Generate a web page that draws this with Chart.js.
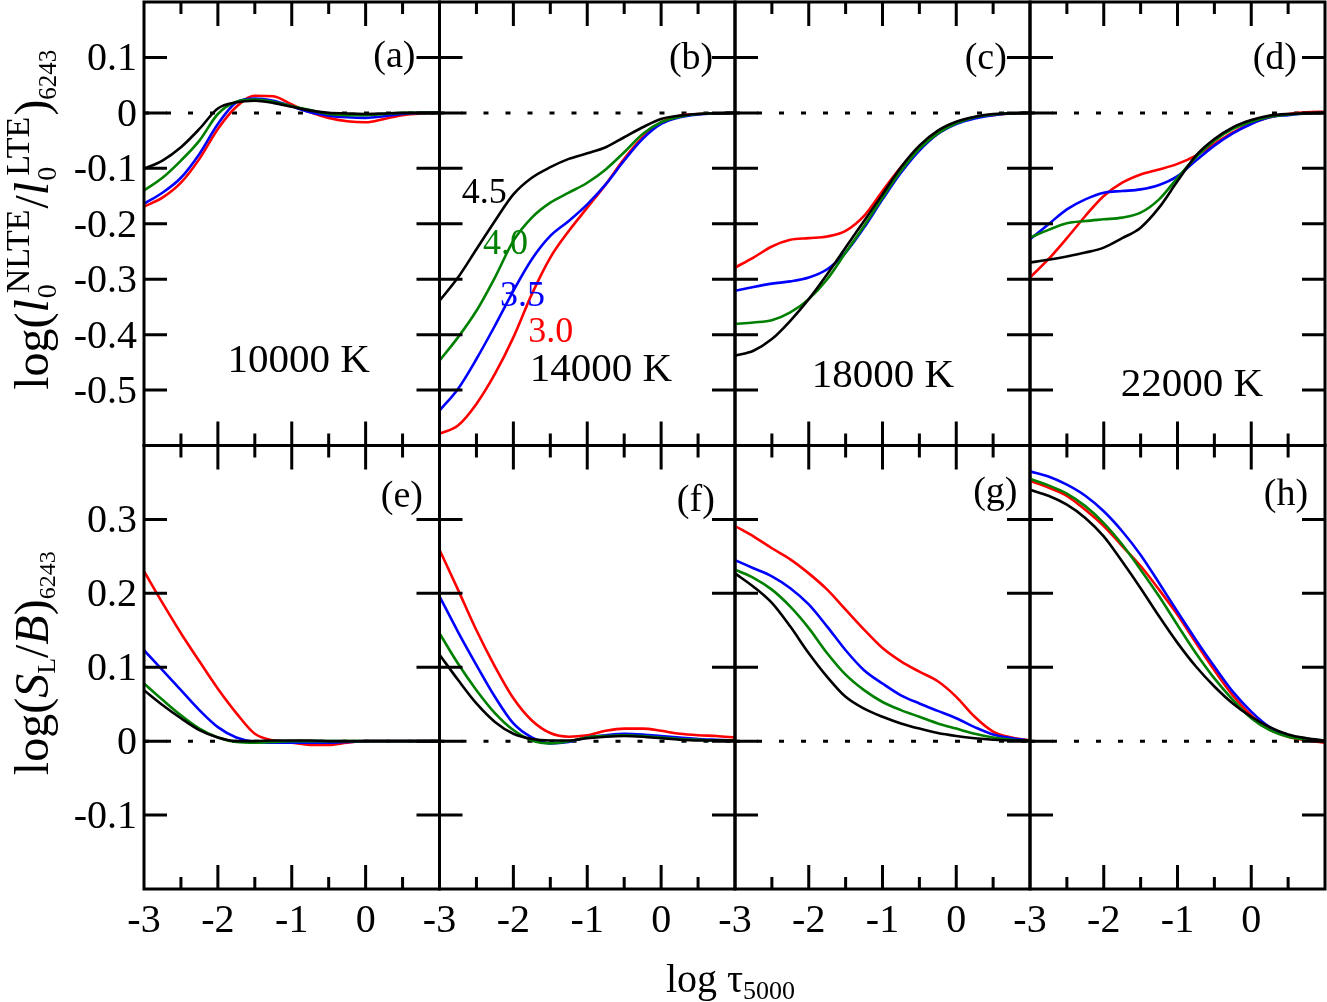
<!DOCTYPE html>
<html><head><meta charset="utf-8">
<script src="https://cdn.jsdelivr.net/npm/chart.js@4.4.1/dist/chart.umd.min.js"></script>
<style>
html,body{margin:0;padding:0;background:#fff;}
#wrap{position:relative;width:1327px;height:1002px;overflow:hidden;background:#fff;}
#wrap canvas{position:absolute;left:0;top:0;}
</style></head>
<body><div id="wrap"></div>
<script>
// ---------------- DATA ----------------
const logTau = [-3,-2.75,-2.5,-2.25,-2,-1.75,-1.5,-1.25,-1,-0.75,-0.5,-0.25,0,0.25,0.5,0.75,1];
const loggLabels = ['4.5','4.0','3.5','3.0'];
const tempLabels = ['10000 K','14000 K','18000 K','22000 K'];
const panelLetters = ['(a)','(b)','(c)','(d)','(e)','(f)','(g)','(h)'];
const topYTicks = [-0.5,-0.4,-0.3,-0.2,-0.1,0,0.1];
const botYTicks = [-0.1,0,0.1,0.2,0.3];
const xTickLabels = [-3,-2,-1,0];

// top row: log(l0 NLTE / l0 LTE)
const a45 = [-0.101,-0.086,-0.062,-0.029,0.008,0.019,0.022,0.018,0.011,0.004,0.000,-0.001,-0.002,-0.001,0,0,0];
const a40 = [-0.140,-0.117,-0.086,-0.050,-0.002,0.020,0.024,0.020,0.012,0.005,-0.002,-0.004,-0.004,-0.002,0,0,0];
const a35 = [-0.164,-0.144,-0.117,-0.074,-0.020,0.019,0.026,0.022,0.012,0.001,-0.005,-0.008,-0.009,-0.006,-0.002,0,0];
const a30 = [-0.169,-0.153,-0.126,-0.083,-0.029,0.011,0.031,0.030,0.015,0.001,-0.009,-0.015,-0.017,-0.011,-0.004,-0.001,0];

const b45 = [-0.339,-0.297,-0.246,-0.195,-0.147,-0.117,-0.098,-0.083,-0.073,-0.062,-0.044,-0.026,-0.011,-0.005,-0.002,-0.001,0];
const b40 = [-0.447,-0.405,-0.357,-0.297,-0.231,-0.189,-0.162,-0.144,-0.126,-0.102,-0.071,-0.038,-0.017,-0.007,-0.002,-0.001,0];
const b35 = [-0.537,-0.498,-0.444,-0.384,-0.321,-0.264,-0.222,-0.195,-0.165,-0.129,-0.086,-0.047,-0.020,-0.008,-0.003,-0.001,0];
const b30 = [-0.579,-0.564,-0.525,-0.471,-0.405,-0.327,-0.261,-0.213,-0.171,-0.129,-0.083,-0.044,-0.017,-0.005,-0.002,-0.001,0];

const c45 = [-0.438,-0.429,-0.408,-0.375,-0.336,-0.291,-0.243,-0.195,-0.147,-0.098,-0.059,-0.032,-0.016,-0.007,-0.002,-0.001,0];
const c40 = [-0.381,-0.378,-0.374,-0.360,-0.336,-0.300,-0.252,-0.204,-0.153,-0.105,-0.065,-0.037,-0.019,-0.008,-0.003,-0.001,0];
const c35 = [-0.321,-0.314,-0.308,-0.304,-0.297,-0.282,-0.252,-0.207,-0.156,-0.108,-0.068,-0.038,-0.020,-0.010,-0.004,-0.001,0];
const c30 = [-0.279,-0.261,-0.241,-0.229,-0.226,-0.223,-0.213,-0.186,-0.141,-0.098,-0.062,-0.035,-0.017,-0.008,-0.004,-0.001,0];

const d45 = [-0.270,-0.265,-0.259,-0.252,-0.243,-0.226,-0.207,-0.171,-0.123,-0.077,-0.047,-0.026,-0.013,-0.005,-0.002,-0.001,0];
const d40 = [-0.225,-0.211,-0.199,-0.195,-0.192,-0.189,-0.180,-0.156,-0.117,-0.080,-0.050,-0.029,-0.016,-0.007,-0.003,-0.001,0];
const d35 = [-0.228,-0.201,-0.174,-0.156,-0.144,-0.141,-0.138,-0.130,-0.114,-0.086,-0.059,-0.037,-0.020,-0.008,-0.004,-0.001,0];
const d30 = [-0.297,-0.264,-0.226,-0.186,-0.150,-0.126,-0.111,-0.102,-0.092,-0.077,-0.056,-0.035,-0.019,-0.008,-0.002,0.001,0.002];

// bottom row: log(S_L/B)
const e45 = [0.069,0.049,0.031,0.015,0.005,0.000,0.000,0.001,0.001,0.001,0.000,0,0,0,0,0,0];
const e40 = [0.078,0.056,0.035,0.017,0.005,-0.001,-0.002,-0.001,0,0,0,0,0,0,0,0,0];
const e35 = [0.123,0.096,0.069,0.042,0.019,0.005,-0.001,-0.002,-0.002,-0.002,-0.002,-0.001,0,0,0,0,0];
const e30 = [0.230,0.187,0.146,0.108,0.071,0.038,0.010,0.001,-0.002,-0.005,-0.005,-0.002,0,0,0,0,0];

const f45 = [0.117,0.083,0.051,0.026,0.010,0.003,0.001,0.001,0.004,0.006,0.007,0.006,0.004,0.002,0.001,0.001,0.001];
const f40 = [0.146,0.105,0.069,0.038,0.015,0.001,-0.003,0.000,0.005,0.007,0.008,0.007,0.005,0.003,0.002,0.001,0.001];
const f35 = [0.196,0.148,0.103,0.060,0.024,0.005,-0.003,-0.001,0.005,0.008,0.010,0.009,0.007,0.005,0.003,0.002,0.001];
const f30 = [0.259,0.205,0.150,0.101,0.058,0.028,0.011,0.006,0.008,0.014,0.017,0.017,0.014,0.010,0.008,0.007,0.005];

const g45 = [0.227,0.209,0.187,0.155,0.119,0.087,0.060,0.044,0.033,0.024,0.017,0.011,0.007,0.004,0.002,0.001,0.001];
const g40 = [0.232,0.221,0.205,0.182,0.153,0.119,0.090,0.069,0.053,0.042,0.033,0.024,0.017,0.010,0.005,0.002,0.001];
const g35 = [0.245,0.234,0.223,0.207,0.185,0.155,0.123,0.096,0.078,0.062,0.051,0.041,0.031,0.019,0.009,0.004,0.001];
const g30 = [0.291,0.277,0.261,0.246,0.227,0.205,0.178,0.151,0.126,0.108,0.094,0.081,0.060,0.033,0.013,0.005,0.001];

const h45 = [0.340,0.332,0.320,0.302,0.277,0.243,0.207,0.169,0.133,0.101,0.074,0.051,0.033,0.019,0.009,0.004,0.001];
const h40 = [0.355,0.346,0.335,0.318,0.295,0.266,0.232,0.196,0.157,0.119,0.085,0.056,0.031,0.015,0.006,0.002,0];
const h35 = [0.365,0.358,0.347,0.332,0.311,0.284,0.252,0.214,0.175,0.137,0.101,0.067,0.040,0.019,0.007,0.003,0];
const h30 = [0.352,0.343,0.332,0.313,0.291,0.264,0.237,0.205,0.171,0.133,0.096,0.062,0.035,0.016,0.006,0.001,-0.002];

// ---------------- LAYOUT / STYLE ----------------
const W = 1327, H = 1002;
const colEdges = [144, 439.5, 735, 1030, 1325];
const rowEdges = [2, 445.5, 889];
const seriesColors = ['#000000', '#008000', '#0000ff', '#ff0000']; // 4.5, 4.0, 3.5, 3.0
const FONT = '"Liberation Serif", "Times New Roman", serif';

const panelSeries = [
  [a45,a40,a35,a30],[b45,b40,b35,b30],[c45,c40,c35,c30],[d45,d40,d35,d30],
  [e45,e40,e35,e30],[f45,f40,f35,f30],[g45,g40,g35,g30],[h45,h40,h35,h30]
];
// annotation anchor positions in data coordinates (layout only)
const tempPos = [[-0.905,-0.468],[-0.815,-0.483],[-0.993,-0.495],[-0.803,-0.510]];
const loggPos = [[-2.70,-0.162],[-2.41,-0.254],[-2.18,-0.348],[-1.80,-0.414]];
const letterPos = [[0.39,0.083],[0.405,0.080],[0.40,0.080],[0.32,0.080],[0.49,0.317],[0.47,0.312],[0.53,0.322],[0.47,0.320]];

function fmt(v){ return String(Number(v.toFixed(1))); }

// lay out segments sequentially; 'stack' segments share a start with the next one,
// the pen then advances by the wider of the two
function layoutSegments(ctx, segs){
  let u = 0, stackStart = null, stackW = 0;
  for (const s of segs){
    ctx.font = s.f + ' ' + FONT;
    const w = ctx.measureText(s.t).width;
    if (s.stack){ stackStart = u; stackW = w; s.u = u; continue; }
    if (stackStart !== null){
      s.u = stackStart + (s.dx || 0);
      u = stackStart + Math.max(stackW, w + (s.dx || 0)) + (s.gap || 0);
      stackStart = null;
    } else {
      s.u = u + (s.dx || 0);
      u = s.u + w + (s.gap || 0);
    }
  }
  return u;
}
function drawSegments(ctx, segs){
  for (const s of segs){
    ctx.font = s.f + ' ' + FONT;
    ctx.fillText(s.t, s.u, s.dy);
  }
}

const decoPlugin = {
  id: 'deco',
  afterDatasetsDraw(chart){
    const o = chart.options.plugins.deco;
    const ctx = chart.ctx, ca = chart.chartArea, x = chart.scales.x, y = chart.scales.y;
    ctx.save();
    ctx.strokeStyle = '#000'; ctx.lineWidth = 3; ctx.lineCap = 'butt';
    ctx.beginPath();
    for (let k = 1; k < 8; k++){
      const v = -3 + k*0.5;
      const px = x.getPixelForValue(v);
      const len = (k % 2 === 0) ? 24 : 12;
      ctx.moveTo(px, ca.top); ctx.lineTo(px, ca.top + len);
      ctx.moveTo(px, ca.bottom); ctx.lineTo(px, ca.bottom - len);
    }
    for (const v of o.yTicks){
      const py = y.getPixelForValue(v);
      ctx.moveTo(ca.left, py); ctx.lineTo(ca.left + 23, py);
      ctx.moveTo(ca.right, py); ctx.lineTo(ca.right - 23, py);
    }
    ctx.stroke();
    ctx.strokeRect(ca.left, ca.top, ca.right - ca.left, ca.bottom - ca.top);

    ctx.fillStyle = '#000';
    ctx.textBaseline = 'alphabetic';
    // panel letter
    ctx.font = '38px ' + FONT; ctx.textAlign = 'center';
    const lp = letterPos[o.index];
    ctx.fillText(panelLetters[o.index], x.getPixelForValue(lp[0]), y.getPixelForValue(lp[1]));
    // temperature label
    if (o.row === 0){
      const tp = tempPos[o.col];
      ctx.font = '41px ' + FONT; ctx.textAlign = 'center';
      ctx.fillText(tempLabels[o.col], x.getPixelForValue(tp[0]), y.getPixelForValue(tp[1]));
    }
    // log g labels in panel (b)
    if (o.index === 1){
      ctx.font = '36px ' + FONT; ctx.textAlign = 'left';
      loggLabels.forEach((t, i) => {
        ctx.fillStyle = seriesColors[i];
        ctx.fillText(t, x.getPixelForValue(loggPos[i][0]), y.getPixelForValue(loggPos[i][1]));
      });
      ctx.fillStyle = '#000';
    }
    // y tick labels
    if (o.col === 0){
      ctx.font = '40px ' + FONT; ctx.textAlign = 'right';
      for (const v of o.yTicks){
        ctx.fillText(fmt(v), ca.left - 7, y.getPixelForValue(v) + 13);
      }
    }
    // x tick labels
    if (o.row === 1){
      ctx.font = '40px ' + FONT; ctx.textAlign = 'center';
      for (const v of xTickLabels){
        ctx.fillText(String(v), x.getPixelForValue(v), ca.bottom + 43);
      }
    }
    // axis titles
    ctx.textAlign = 'left';
    if (o.index === 0){
      const segs = [
        {t:'log(', f:'48px', dy:0},
        {t:'l', f:'italic 48px', dy:0, gap:1},
        {t:'0', f:'28px', dy:8, stack:true},
        {t:'NLTE', f:'34px', dy:-19, dx:5, gap:1},
        {t:'/', f:'48px', dy:0},
        {t:'l', f:'italic 48px', dy:0, gap:1},
        {t:'0', f:'28px', dy:8, stack:true},
        {t:'LTE', f:'34px', dy:-19, dx:5, gap:1},
        {t:')', f:'48px', dy:0},
        {t:'6243', f:'25px', dy:8}
      ];
      const len = layoutSegments(ctx, segs);
      const cy = (ca.top + ca.bottom)/2 - 4;
      ctx.save();
      ctx.translate(ca.left - 96, cy + len/2);
      ctx.rotate(-Math.PI/2);
      drawSegments(ctx, segs);
      ctx.restore();
    }
    if (o.index === 4){
      // y title, bottom row
      const segs = [
        {t:'log(', f:'48px', dy:0},
        {t:'S', f:'italic 48px', dy:0},
        {t:'L', f:'26px', dy:7},
        {t:'/', f:'48px', dy:0},
        {t:'B', f:'italic 48px', dy:0},
        {t:')', f:'48px', dy:0},
        {t:'6243', f:'24px', dy:7}
      ];
      const len = layoutSegments(ctx, segs);
      const cy = (ca.top + ca.bottom)/2 - 4;
      ctx.save();
      ctx.translate(ca.left - 96, cy + len/2);
      ctx.rotate(-Math.PI/2);
      drawSegments(ctx, segs);
      ctx.restore();
      // x title
      const xs = [
        {t:'log ', f:'40px', dy:0},
        {t:'\u03C4', f:'40px', dy:0},
        {t:'5000', f:'26px', dy:7}
      ];
      const w = layoutSegments(ctx, xs);
      const cx = (colEdges[0] + colEdges[4])/2 - 4;
      ctx.save();
      ctx.translate(cx - w/2, ca.bottom + 103);
      drawSegments(ctx, xs);
      ctx.restore();
    }
    ctx.restore();
  }
};

const wrap = document.getElementById('wrap');
for (let i = 0; i < 8; i++){
  const row = Math.floor(i/4), col = i % 4;
  const cv = document.createElement('canvas');
  cv.width = W; cv.height = H;
  cv.style.width = W + 'px'; cv.style.height = H + 'px';
  wrap.appendChild(cv);
  const datasets = panelSeries[i].map((arr, k) => ({
    data: logTau.map((t, j) => ({x: t, y: arr[j]})),
    borderColor: seriesColors[k],
    borderWidth: 2.6,
    pointRadius: 0,
    fill: false,
    cubicInterpolationMode: 'monotone'
  }));
  datasets.push({
    data: [{x: logTau[0], y: 0}, {x: logTau[logTau.length-1], y: 0}],
    borderColor: '#000', borderWidth: 3, borderDash: [5, 17], pointRadius: 0, fill: false
  });
  new Chart(cv.getContext('2d'), {
    type: 'line',
    data: { datasets },
    options: {
      responsive: false, animation: false, devicePixelRatio: 1, events: [],
      layout: { padding: { left: colEdges[col], right: W - colEdges[col+1], top: rowEdges[row], bottom: H - rowEdges[row+1] } },
      scales: {
        x: { type: 'linear', min: -3, max: 1, display: false },
        y: { type: 'linear', min: row === 0 ? -0.6 : -0.2, max: row === 0 ? 0.2 : 0.4, display: false }
      },
      plugins: {
        legend: { display: false }, tooltip: { enabled: false },
        deco: { index: i, row, col, yTicks: row === 0 ? topYTicks : botYTicks }
      }
    },
    plugins: [decoPlugin]
  });
}
</script>
</body></html>
